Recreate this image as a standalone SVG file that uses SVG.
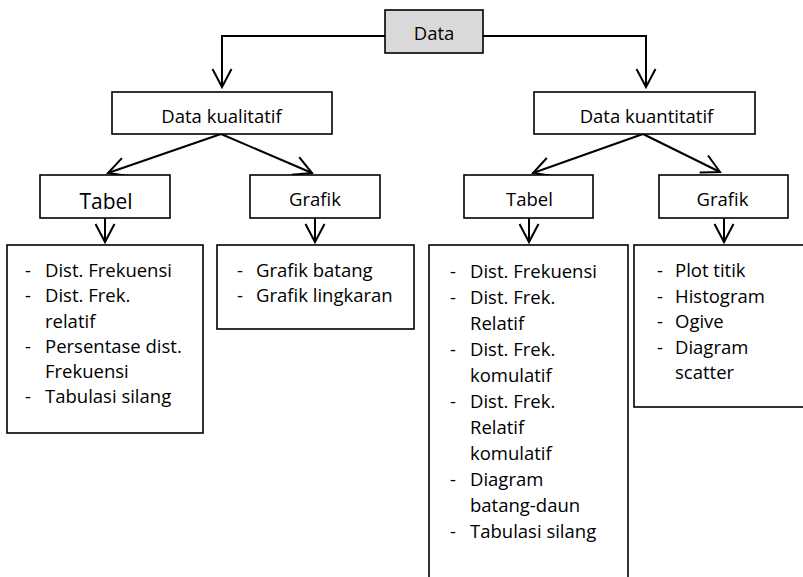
<svg xmlns="http://www.w3.org/2000/svg" width="803" height="577" viewBox="0 0 803 577">
<style>
  .box { fill: #ffffff; stroke: #000000; stroke-width: 1.6; }
  .root { fill: #d9d9d9; stroke: #000000; stroke-width: 1.6; }
  .t { font-family: "Open Sans", "Noto Sans", sans-serif; font-size: 18.5px; fill: #000000; }
  .c { text-anchor: middle; }
  .big { font-size: 21px; }
  .conn { fill: none; stroke: #000000; stroke-width: 2; marker-end: url(#arr); }
</style>
<defs>
  <marker id="arr" markerUnits="userSpaceOnUse" markerWidth="30" markerHeight="30" refX="0" refY="0" orient="auto" overflow="visible">
    <path d="M -18,-9.5 L 0,0 L -18,9.5" fill="none" stroke="#000000" stroke-width="2"/>
  </marker>
</defs>
<rect width="803" height="577" fill="#ffffff"/>
<g id="connectors">
  <path class="conn" d="M 385,36 H 222 V 87"/>
  <path class="conn" d="M 483,36 H 646 V 87"/>
  <path class="conn" d="M 221,134 L 108,173"/>
  <path class="conn" d="M 221,134 L 312,173"/>
  <path class="conn" d="M 643,134 L 533,173"/>
  <path class="conn" d="M 643,134 L 720,172"/>
  <path class="conn" d="M 105,218 V 242"/>
  <path class="conn" d="M 315,218 V 242"/>
  <path class="conn" d="M 529,218 V 242"/>
  <path class="conn" d="M 724,218 V 242"/>
</g>
<g id="data">
  <rect class="root" x="385" y="10" width="98" height="43"/>
  <text class="t c" x="434" y="40">Data</text>
</g>
<g id="data-kualitatif">
  <rect class="box" x="112" y="92" width="220" height="42"/>
  <text class="t c" x="221.5" y="123">Data kualitatif</text>
</g>
<g id="data-kuantitatif">
  <rect class="box" x="534" y="92" width="221" height="42"/>
  <text class="t c" x="646.5" y="123">Data kuantitatif</text>
</g>
<g id="tabel-kualitatif">
  <rect class="box" x="40" y="175" width="130" height="43"/>
  <text class="t c big" x="106" y="209">Tabel</text>
</g>
<g id="grafik-kualitatif">
  <rect class="box" x="250" y="175" width="130" height="43"/>
  <text class="t c" x="315" y="206">Grafik</text>
</g>
<g id="tabel-kuantitatif">
  <rect class="box" x="464" y="175" width="129" height="43"/>
  <text class="t c" x="529.5" y="206">Tabel</text>
</g>
<g id="grafik-kuantitatif">
  <rect class="box" x="659" y="175" width="129" height="43"/>
  <text class="t c" x="722.5" y="206">Grafik</text>
</g>
<g id="list-tabel-kualitatif">
  <rect class="box" x="7" y="245" width="196" height="188"/>
  <g class="t">
    <text x="25" y="277">-</text><text x="45" y="277">Dist. Frekuensi</text>
    <text x="25" y="302">-</text><text x="45" y="302">Dist. Frek.</text>
    <text x="45" y="328">relatif</text>
    <text x="25" y="353">-</text><text x="45" y="353">Persentase dist.</text>
    <text x="45" y="378">Frekuensi</text>
    <text x="25" y="403">-</text><text x="45" y="403">Tabulasi silang</text>
  </g>
</g>
<g id="list-grafik-kualitatif">
  <rect class="box" x="217" y="245" width="197" height="84"/>
  <g class="t">
    <text x="237" y="277">-</text><text x="256" y="277">Grafik batang</text>
    <text x="237" y="302">-</text><text x="256" y="302">Grafik lingkaran</text>
  </g>
</g>
<g id="list-tabel-kuantitatif">
  <rect class="box" x="429" y="245" width="199" height="345"/>
  <g class="t">
    <text x="450" y="278">-</text><text x="470" y="278">Dist. Frekuensi</text>
    <text x="450" y="304">-</text><text x="470" y="304">Dist. Frek.</text>
    <text x="470" y="330">Relatif</text>
    <text x="450" y="356">-</text><text x="470" y="356">Dist. Frek.</text>
    <text x="470" y="382">komulatif</text>
    <text x="450" y="408">-</text><text x="470" y="408">Dist. Frek.</text>
    <text x="470" y="434">Relatif</text>
    <text x="470" y="460">komulatif</text>
    <text x="450" y="486">-</text><text x="470" y="486">Diagram</text>
    <text x="470" y="512">batang-daun</text>
    <text x="450" y="538">-</text><text x="470" y="538">Tabulasi silang</text>
  </g>
</g>
<g id="list-grafik-kuantitatif">
  <rect class="box" x="634" y="245" width="180" height="162"/>
  <g class="t">
    <text x="657" y="277">-</text><text x="675" y="277">Plot titik</text>
    <text x="657" y="302.5">-</text><text x="675" y="302.5">Histogram</text>
    <text x="657" y="328">-</text><text x="675" y="328">Ogive</text>
    <text x="657" y="353.5">-</text><text x="675" y="353.5">Diagram</text>
    <text x="675" y="379">scatter</text>
  </g>
</g>
</svg>
